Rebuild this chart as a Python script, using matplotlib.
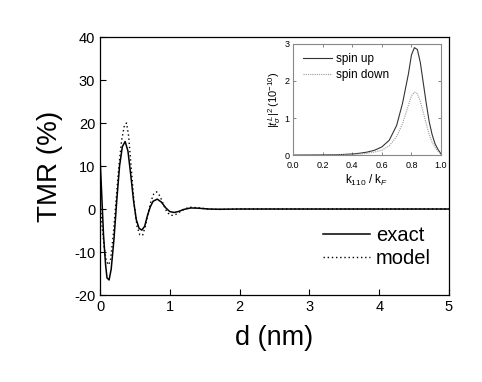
import numpy as np
import matplotlib
matplotlib.use("Agg")
import matplotlib.pyplot as plt

plt.rcParams["font.family"] = ["Liberation Sans", "DejaVu Sans"]
plt.rcParams["mathtext.fontset"] = "custom"
plt.rcParams["mathtext.rm"] = "Liberation Sans"
plt.rcParams["mathtext.it"] = "Liberation Sans:italic"
plt.rcParams["axes.unicode_minus"] = False

# main panel: TMR vs barrier thickness
d_exact = [0.0, 0.02, 0.05, 0.08, 0.10, 0.13, 0.16, 0.20, 0.24, 0.28, 0.32, 0.36,
           0.40, 0.44, 0.48, 0.52, 0.56, 0.60, 0.64, 0.68, 0.72, 0.76, 0.82, 0.88,
           0.94, 1.00, 1.06, 1.12, 1.20, 1.30, 1.40, 1.55, 1.70, 2.0, 3.0, 4.0, 5.0]
tmr_exact = [12, 5, -6, -13, -16, -16.5, -14, -7, 2, 10, 14.5, 15.7,
             13.5, 8, 2, -2.5, -4.5, -4.9, -4, -1.5, 0.5, 1.8, 2.3, 1.6,
             0.3, -0.6, -0.8, -0.6, -0.1, 0.25, 0.2, 0.0, -0.05, 0.0, 0.0, 0.0, 0.0]

d_model = [0.0, 0.03, 0.06, 0.09, 0.12, 0.15, 0.19, 0.23, 0.27, 0.31, 0.35, 0.38,
           0.41, 0.45, 0.49, 0.53, 0.57, 0.61, 0.65, 0.69, 0.73, 0.77, 0.81, 0.86,
           0.91, 0.96, 1.02, 1.08, 1.15, 1.22, 1.30, 1.40, 1.55, 1.70, 2.0, 3.0, 4.0, 5.0]
tmr_model = [2, -4, -9, -12, -13, -12, -6, 2, 10, 16, 19.5, 20,
             17, 9, 1, -4, -6, -6.1, -4, -1, 1.8, 3.5, 4, 3,
             1, -0.8, -1.5, -1.3, -0.6, 0.1, 0.4, 0.3, 0.0, -0.1, 0.0, 0.0, 0.0, 0.0]

# inset: transmission vs k110/kF
k_ratio = [0.0, 0.2, 0.3, 0.4, 0.45, 0.5, 0.55, 0.6, 0.65, 0.7, 0.74, 0.78, 0.8,
           0.82, 0.84, 0.86, 0.88, 0.9, 0.92, 0.94, 0.96, 0.98, 1.0]
t_up = [0.0, 0.005, 0.01, 0.03, 0.05, 0.08, 0.13, 0.22, 0.4, 0.8, 1.4, 2.2, 2.7,
        2.9, 2.85, 2.5, 1.95, 1.4, 0.9, 0.55, 0.3, 0.15, 0.03]
t_down = [0.0, 0.003, 0.006, 0.02, 0.03, 0.05, 0.08, 0.13, 0.25, 0.5, 0.85, 1.35, 1.6,
          1.7, 1.66, 1.45, 1.15, 0.85, 0.55, 0.35, 0.2, 0.1, 0.02]

fig = plt.figure(figsize=(4.82, 3.82), dpi=100)
ax = fig.add_axes([0.2075, 0.2277, 0.724, 0.6754])
ax.plot(d_exact, tmr_exact, color="black", lw=1.1, label="exact")
ax.plot(d_model, tmr_model, color="black", lw=1.0, ls=(0, (1, 2)), label="model")
ax.set_xlim(0, 5)
ax.set_ylim(-20, 40)
ax.set_xticks([0, 1, 2, 3, 4, 5])
ax.set_yticks([-20, -10, 0, 10, 20, 30, 40])
ax.tick_params(direction="in", length=4, labelsize=10.5, width=0.8)
ax.set_xlabel("d (nm)", fontsize=19.5, labelpad=8)
ax.set_ylabel("TMR (%)", fontsize=20, labelpad=8)
for s in ax.spines.values():
    s.set_linewidth(0.9)
ax.legend(loc="lower right", bbox_to_anchor=(1.0, 0.035), frameon=False,
          fontsize=14.5, handlelength=2.3, handletextpad=0.3, labelspacing=0.2)

# inset
ins = fig.add_axes([0.608, 0.594, 0.307, 0.291])
ins.plot(k_ratio, t_up, color="#333333", lw=0.8, label="spin up")
ins.plot(k_ratio, t_down, color="#999999", lw=0.8, ls=(0, (1, 1)), label="spin down")
ins.set_xlim(0, 1)
ins.set_ylim(0, 3)
ins.set_xticks([0.0, 0.2, 0.4, 0.6, 0.8, 1.0])
ins.set_xticklabels(["0.0", "0.2", "0.4", "0.6", "0.8", "1.0"])
ins.set_yticks([0, 1, 2, 3])
ins.tick_params(direction="in", length=2, labelsize=6.5, width=0.5,
                top=True, right=True, colors="#555555", labelcolor="black")
ins.tick_params(axis="x", pad=4)
ins.tick_params(axis="y", pad=2.5)
for s in ins.spines.values():
    s.set_color("#888888")
    s.set_linewidth(0.8)
ins.set_xlabel(r"k$_{110}$ / k$_F$", fontsize=8.5, labelpad=2)
ins.set_ylabel(r"$|t^{\,L}_{\sigma}|^2\,(10^{-10})$", fontsize=8, labelpad=1)
ins.legend(loc="upper left", frameon=False, fontsize=8.5, handlelength=2.5,
           handletextpad=0.3, labelspacing=0.3, borderaxespad=0.4)

fig.savefig("out.png", dpi=100)
